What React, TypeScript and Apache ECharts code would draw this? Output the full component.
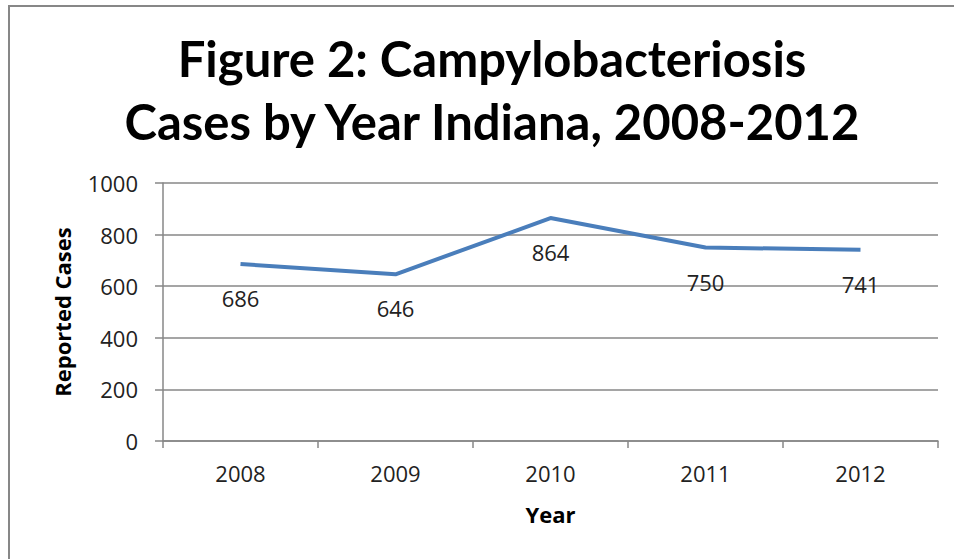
import React, { useEffect, useRef } from "react";
import * as echarts from "echarts";

const years = ["2008", "2009", "2010", "2011", "2012"];
const cases = [686, 646, 864, 750, 741];
const yTicks = { min: 0, max: 1000, interval: 200 };

export default function App() {
  const ref = useRef<HTMLDivElement>(null);
  useEffect(() => {
    if (!ref.current) return;
    const chart = echarts.init(ref.current, null, { renderer: "svg" });
    chart.setOption({
      animation: false,
      backgroundColor: "#ffffff",
      title: {
        text: "Figure 2: Campylobacteriosis\nCases by Year Indiana, 2008-2012",
        left: 487,
        textAlign: "center",
        top: 21,
        textStyle: {
          fontFamily: "Lato",
          fontWeight: "bold",
          fontSize: 49,
          lineHeight: 63,
          color: "#000",
        },
      },
      graphic: [
        {
          type: "rect",
          shape: { x: 9, y: 6, width: 1000, height: 700 },
          style: { fill: "none", stroke: "#878787", lineWidth: 2 },
          silent: true,
        },
      ],
      grid: { left: 163, right: 16, top: 183, bottom: 118 },
      xAxis: {
        type: "category",
        data: years,
        boundaryGap: true,
        name: "Year",
        nameLocation: "middle",
        nameGap: 62,
        nameTextStyle: { fontFamily: "Open Sans", fontWeight: "bold", fontSize: 22, color: "#000" },
        axisLine: { lineStyle: { color: "#878787", width: 1.5 } },
        axisTick: { show: true, length: 7, lineStyle: { color: "#878787", width: 1.5 } },
        axisLabel: { fontFamily: "Open Sans", fontSize: 22, color: "#222", margin: 21 },
      },
      yAxis: {
        type: "value",
        min: yTicks.min,
        max: yTicks.max,
        interval: yTicks.interval,
        name: "Reported Cases",
        nameLocation: "middle",
        nameGap: 90,
        nameTextStyle: { fontFamily: "Open Sans", fontWeight: "bold", fontSize: 22, color: "#000" },
        axisLine: { show: true, lineStyle: { color: "#878787", width: 1.5 } },
        axisTick: { show: true, inside: false, length: 8, lineStyle: { color: "#878787", width: 1.5 } },
        splitLine: { lineStyle: { color: "#878787", width: 1.5 } },
        axisLabel: {
          fontFamily: "Open Sans",
          fontSize: 22,
          color: "#222",
          margin: 25,
          formatter: (v: number) => String(v),
        },
      },
      series: [
        {
          type: "line",
          data: cases,
          symbol: "circle",
          symbolSize: 2,
          itemStyle: { color: "rgba(0,0,0,0)" },
          lineStyle: { color: "#4a7ebb", width: 4 },
          label: {
            show: true,
            position: "bottom",
            distance: 22,
            fontFamily: "Open Sans",
            fontSize: 22,
            color: "#222",
          },
        },
      ],
    });
    return () => chart.dispose();
  }, []);
  return (
    <div
      ref={ref}
      style={{ position: "fixed", left: 0, top: 0, width: 954, height: 559 }}
    />
  );
}
